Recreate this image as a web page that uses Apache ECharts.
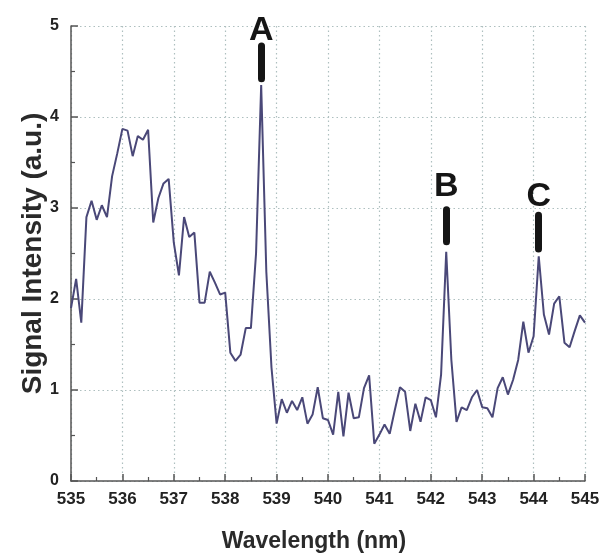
<!DOCTYPE html>
<html>
<head>
<meta charset="utf-8">
<script src="https://cdn.jsdelivr.net/npm/echarts@6/dist/echarts.min.js"></script>
<style>html,body{margin:0;padding:0;background:#fff}#c{width:602px;height:553px}</style>
</head>
<body>
<div id="c"></div>
<script>
var wavelengths = [535.0,535.1,535.2,535.3,535.4,535.5,535.6,535.7,535.8,535.9,
536.0,536.1,536.2,536.3,536.4,536.5,536.6,536.7,536.8,536.9,
537.0,537.1,537.2,537.3,537.4,537.5,537.6,537.7,537.8,537.9,
538.0,538.1,538.2,538.3,538.4,538.5,538.6,538.7,538.8,538.9,
539.0,539.1,539.2,539.3,539.4,539.5,539.6,539.7,539.8,539.9,
540.0,540.1,540.2,540.3,540.4,540.5,540.6,540.7,540.8,540.9,
541.0,541.1,541.2,541.3,541.4,541.5,541.6,541.7,541.8,541.9,
542.0,542.1,542.2,542.3,542.4,542.5,542.6,542.7,542.8,542.9,
543.0,543.1,543.2,543.3,543.4,543.5,543.6,543.7,543.8,543.9,
544.0,544.1,544.2,544.3,544.4,544.5,544.6,544.7,544.8,544.9,545.0];
var intensity = [1.90,2.22,1.74,2.90,3.08,2.87,3.03,2.90,3.35,3.60,
3.87,3.85,3.57,3.79,3.75,3.86,2.84,3.11,3.27,3.32,
2.62,2.26,2.90,2.68,2.73,1.96,1.96,2.30,2.18,2.05,
2.07,1.41,1.32,1.39,1.68,1.68,2.50,4.35,2.30,1.25,
0.63,0.90,0.75,0.88,0.78,0.92,0.63,0.73,1.03,0.69,
0.67,0.51,0.98,0.49,0.97,0.69,0.70,1.02,1.16,0.41,
0.51,0.62,0.52,0.78,1.03,0.98,0.55,0.85,0.65,0.92,
0.89,0.70,1.17,2.52,1.33,0.65,0.81,0.78,0.92,1.00,
0.81,0.80,0.70,1.02,1.14,0.95,1.11,1.33,1.75,1.41,
1.59,2.47,1.83,1.61,1.95,2.03,1.52,1.47,1.65,1.82,1.74];
var peakLabels = ['A','B','C'];
var peakX = [538.7, 542.3, 544.1];
var peakBarLow = [4.42, 2.63, 2.55];
var peakBarHigh = [4.78, 2.98, 2.92];
var peakLabelY = [4.95, 3.24, 3.13];
var xTicks = [535,536,537,538,539,540,541,542,543,544,545];
var yTicks = [0,1,2,3,4,5];

var seriesData = wavelengths.map(function(w,i){return [w, intensity[i]];});
var barData = peakLabels.map(function(l,i){
  return [{coord:[peakX[i], peakBarLow[i]]}, {coord:[peakX[i], peakBarHigh[i]]}];
});
var letterData = peakLabels.map(function(l,i){
  return {name:l, coord:[peakX[i], peakLabelY[i]]};
});

var chart = echarts.init(document.getElementById('c'), null, {renderer:'canvas'});
var font = 'Liberation Sans, Arial, sans-serif';
chart.setOption({
  animation:false,
  grid:{left:71, right:17, top:26, bottom:72, containLabel:false, outerBoundsMode:'none'},
  xAxis:{
    type:'value', min:xTicks[0], max:xTicks[xTicks.length-1], interval:1,
    name:'Wavelength (nm)', nameLocation:'middle', nameGap:49, nameMoveOverlap:false,
    nameTextStyle:{fontFamily:font, fontSize:23, fontWeight:'bold', color:'#2a2a2a', padding:[0,28,0,0]},
    axisLine:{show:true, onZero:false, lineStyle:{color:'#555', width:1.5}},
    axisTick:{show:true, inside:true, length:7, lineStyle:{color:'#555', width:1.5}},
    minorTick:{show:true, splitNumber:2, length:4, lineStyle:{color:'#555', width:1.2}},
    axisLabel:{fontFamily:font, fontSize:17, fontWeight:'bold', color:'#222', margin:10},
    splitLine:{show:true, lineStyle:{color:'#aebfbf', type:[1.5,3], width:1.2}}
  },
  yAxis:{
    type:'value', min:yTicks[0], max:yTicks[yTicks.length-1], interval:1,
    name:'Signal Intensity (a.u.)', nameLocation:'middle', nameGap:24, nameMoveOverlap:false,
    nameTextStyle:{fontFamily:font, fontSize:28, fontWeight:'bold', color:'#2a2a2a'},
    axisLine:{show:true, lineStyle:{color:'#555', width:1.5}},
    axisTick:{show:true, inside:true, length:7, lineStyle:{color:'#555', width:1.5}},
    minorTick:{show:true, splitNumber:2, length:4, lineStyle:{color:'#555', width:1.2}},
    axisLabel:{fontFamily:font, fontSize:16, fontWeight:'bold', color:'#222', margin:12},
    splitLine:{show:true, lineStyle:{color:'#aebfbf', type:[1.5,3], width:1.2}}
  },
  series:[{
    type:'line', data:seriesData, showSymbol:false, symbol:'none',
    lineStyle:{color:'#4a4878', width:2},
    markLine:{
      silent:true, symbol:['none','none'],
      lineStyle:{color:'#151515', width:7, type:'solid', cap:'round'},
      label:{show:false},
      emphasis:{disabled:true},
      data:barData
    },
    markPoint:{
      silent:true, symbol:'circle', symbolSize:0,
      label:{show:true, position:'inside', formatter:function(p){return p.name;},
        fontFamily:font, fontSize:34, fontWeight:'bold', color:'#151515'},
      emphasis:{disabled:true},
      data:letterData
    }
  }]
});
</script>
</body>
</html>
